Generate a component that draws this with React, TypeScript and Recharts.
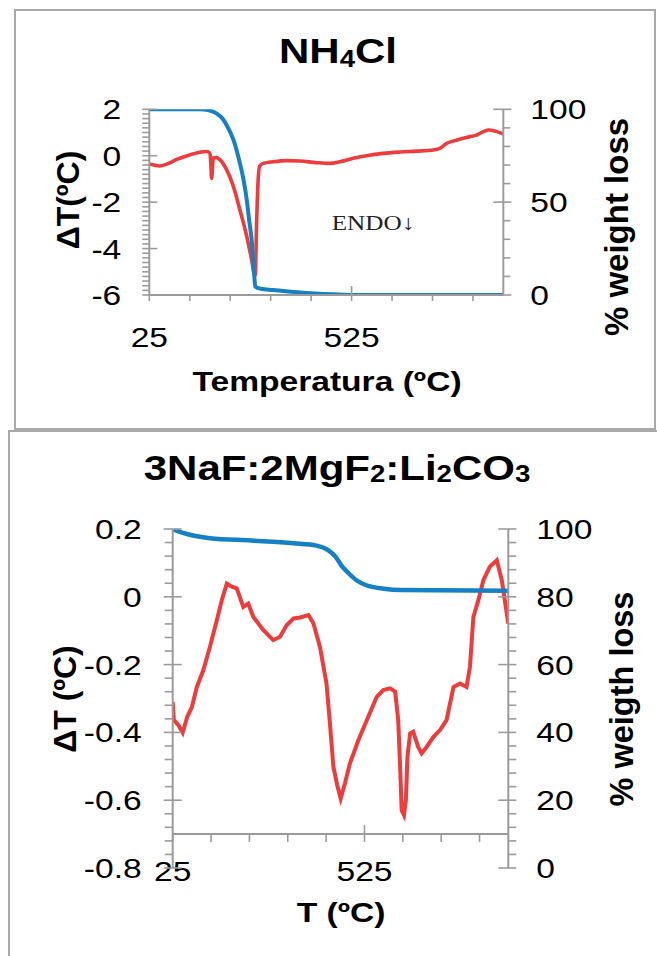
import React from 'react';
import { ComposedChart, Line, XAxis, YAxis, ReferenceLine } from 'recharts';

const AXIS_GRAY = '#9b9b9b';
const BORDER_GRAY = '#a9a9a9';
const RED = '#ee3b3b';
const BLUE = '#1580c4';
const SANS = 'Arial, "Liberation Sans", Helvetica, sans-serif';
const SERIF = '"Times New Roman", "Liberation Serif", serif';

// ---- NH4Cl panel ----
const nh4DtaTemp = [25, 51, 68, 93, 117, 150, 167, 175, 177, 179, 181, 183, 191, 200, 216, 233, 249, 266, 278, 284, 287, 290, 294, 298, 307, 331, 364, 397, 439, 472, 496, 529, 562, 603, 645, 686, 727, 743, 760, 776, 809, 834, 851, 863, 879, 900];
const nh4Dta = [-0.36, -0.44, -0.36, -0.16, -0.01, 0.15, 0.18, 0.1, -0.3, -0.97, -0.6, -0.1, -0.08, -0.18, -0.6, -1.33, -2.34, -3.49, -4.5, -5.07, -5.15, -3.06, -1.05, -0.44, -0.33, -0.26, -0.21, -0.23, -0.3, -0.33, -0.26, -0.11, 0.0, 0.1, 0.16, 0.2, 0.25, 0.32, 0.53, 0.63, 0.79, 0.89, 1.04, 1.11, 1.07, 0.94];
const nh4TgTemp = [25, 150, 170, 191, 204, 216, 233, 249, 258, 266, 272, 278, 284, 287, 300, 331, 397, 480, 530, 900];
const nh4Tg = [100, 100, 99.6, 97.8, 95.5, 91.6, 83.5, 70.9, 62, 51, 40, 29.6, 11.7, 4.5, 3.4, 2.7, 1.4, 0.4, 0, 0];
const nh4LeftMajor = [2, 0, -2, -4, -6];
const nh4RightMajor = [100, 50, 0];

// ---- 3NaF:2MgF2:Li2CO3 panel ----
const mixDtaTemp = [25, 28, 40, 51, 63, 75, 88, 105, 122, 140, 153, 166, 179, 192, 209, 222, 235, 261, 287, 305, 322, 340, 357, 379, 392, 409, 426, 435, 444, 454, 463, 474, 487, 509, 531, 557, 574, 592, 605, 613, 618, 622, 628, 633, 637, 644, 652, 665, 674, 687, 705, 722, 739, 757, 774, 791, 800, 809, 822, 835, 852, 870, 883, 900];
const mixDta = [-0.31, -0.364, -0.379, -0.401, -0.354, -0.325, -0.266, -0.216, -0.148, -0.069, -0.01, 0.039, 0.03, 0.025, -0.03, -0.02, -0.059, -0.098, -0.128, -0.118, -0.084, -0.064, -0.061, -0.054, -0.079, -0.148, -0.256, -0.374, -0.502, -0.556, -0.595, -0.551, -0.492, -0.423, -0.364, -0.295, -0.275, -0.27, -0.28, -0.364, -0.502, -0.63, -0.644, -0.6, -0.472, -0.403, -0.398, -0.443, -0.462, -0.443, -0.413, -0.393, -0.364, -0.266, -0.256, -0.266, -0.207, -0.059, -0.01, 0.049, 0.089, 0.108, 0.049, -0.079];
const mixTgTemp = [25, 50, 122, 230, 340, 400, 430, 450, 465, 485, 505, 530, 575, 620, 900];
const mixTg = [100, 98.9, 97.3, 96.6, 95.8, 95.1, 93.8, 91.8, 89.2, 86.8, 84.8, 83.4, 82.4, 82, 81.8];
const mixLeftMajor = [0.2, 0, -0.2, -0.4, -0.6, -0.8];
const mixRightMajor = [100, 80, 60, 40, 20, 0];

// shared x axis
const xLabels = [25, 525];
const xTickMarks = [25, 125, 225, 325, 425, 525, 625, 725, 825];

function steps(from: number, to: number, step: number) {
  const out: number[] = [];
  const n = Math.round((to - from) / step);
  for (let i = 0; i <= n; i++) out.push(+(from + i * step).toFixed(4));
  return out;
}

const rows = (ts: number[], vs: number[], key: string) => ts.map((t, i) => ({ t, [key]: vs[i] }));

type TickOpts = { majOut: number; majIn: number; minLen: number; gap: number };

const yTick = (side: 'left' | 'right', majors: number[], o: TickOpts) => (p: any) => {
  const { x, y, payload } = p;
  const v = payload.value;
  const major = majors.some((m) => Math.abs(m - v) < 1e-6);
  const s = side === 'left' ? -1 : 1;
  return (
    <g>
      {major ? (
        <line x1={x + s * o.majOut} x2={x - s * o.majIn} y1={y} y2={y} stroke={AXIS_GRAY} strokeWidth={1.6} />
      ) : (
        <line x1={x} x2={x + s * o.minLen} y1={y} y2={y} stroke={AXIS_GRAY} strokeWidth={1.6} />
      )}
      {major && (
        <text
          transform={`translate(${x + s * o.gap},${y}) scale(1.2,1)`}
          textAnchor={side === 'left' ? 'end' : 'start'}
          dy="0.36em"
          fontSize={28}
          fontFamily={SANS}
          fill="#000"
        >
          {String(v)}
        </text>
      )}
    </g>
  );
};

const nh4XTick = (p: any) => {
  const { x, y, payload } = p;
  const v = payload.value;
  return (
    <g>
      <line x1={x} x2={x} y1={v === 525 ? y - 9 : y} y2={y + 6} stroke={AXIS_GRAY} strokeWidth={1.6} />
      {xLabels.includes(v) && (
        <text transform={`translate(${x},${y + 42}) scale(1.2,1)`} textAnchor="middle" dy="0.36em" fontSize={28} fontFamily={SANS} fill="#000">
          {v}
        </text>
      )}
    </g>
  );
};

const mixXTick = (p: any) => {
  const { x, y, payload } = p;
  return (
    <text transform={`translate(${x},${y + 3}) scale(1.2,1)`} textAnchor="middle" dy="0.36em" fontSize={28} fontFamily={SANS} fill="#000">
      {payload.value}
    </text>
  );
};

const axisLine = { stroke: AXIS_GRAY, strokeWidth: 2 };

function Nh4Chart() {
  return (
    <ComposedChart width={657} height={430} margin={{ top: 109.3, right: 123.7, bottom: 105, left: 119.3 }}>
      <XAxis type="number" dataKey="t" domain={[25, 900]} allowDataOverflow ticks={xTickMarks} interval={0}
        height={30} axisLine={axisLine} tickLine={false} tickSize={0} tickMargin={0} tick={nh4XTick} />
      <YAxis yAxisId="left" domain={[-6, 2]} allowDataOverflow ticks={steps(-6, 2, 0.2)} interval={0} width={30}
        axisLine={axisLine} tickLine={false} tickSize={0} tickMargin={0}
        tick={yTick('left', nh4LeftMajor, { majOut: 7, majIn: 8, minLen: 7, gap: 28 })} />
      <YAxis yAxisId="right" orientation="right" domain={[0, 100]} allowDataOverflow ticks={steps(0, 100, 10)} interval={0} width={30}
        axisLine={axisLine} tickLine={false} tickSize={0} tickMargin={0}
        tick={yTick('right', nh4RightMajor, { majOut: 8, majIn: 10, minLen: 7, gap: 27 })} />
      <Line yAxisId="left" data={rows(nh4DtaTemp, nh4Dta, 'v')} dataKey="v" type="monotone" stroke={RED}
        strokeWidth={3.6} dot={false} isAnimationActive={false} />
      <Line yAxisId="right" data={rows(nh4TgTemp, nh4Tg, 'w')} dataKey="w" type="monotone" stroke={BLUE}
        strokeWidth={4} dot={false} isAnimationActive={false} />
    </ComposedChart>
  );
}

function MixChart() {
  return (
    <ComposedChart width={657} height={956} margin={{ top: 529, right: 118.7, bottom: 58, left: 142.7 }}>
      <XAxis type="number" dataKey="t" domain={[25, 900]} allowDataOverflow ticks={xLabels} interval={0}
        height={30} axisLine={false} tickLine={false} tickSize={0} tickMargin={0} tick={mixXTick} />
      <YAxis yAxisId="left" domain={[-0.8, 0.2]} allowDataOverflow ticks={steps(-0.8, 0.2, 0.04)} interval={0} width={30}
        axisLine={axisLine} tickLine={false} tickSize={0} tickMargin={0}
        tick={yTick('left', mixLeftMajor, { majOut: 9, majIn: 9, minLen: 8, gap: 31 })} />
      <YAxis yAxisId="right" orientation="right" domain={[0, 100]} allowDataOverflow ticks={steps(0, 100, 4)} interval={0} width={30}
        axisLine={axisLine} tickLine={false} tickSize={0} tickMargin={0}
        tick={yTick('right', mixRightMajor, { majOut: 8, majIn: 10, minLen: 8, gap: 28 })} />
      <ReferenceLine yAxisId="left" y={-0.7} stroke={AXIS_GRAY} strokeWidth={2} />
      {xTickMarks.map((t) => (
        <ReferenceLine key={t} yAxisId="left" stroke={AXIS_GRAY} strokeWidth={1.6}
          segment={[{ x: t, y: t === 525 ? -0.673 : -0.7 }, { x: t, y: -0.723 }]} />
      ))}
      <Line yAxisId="left" data={rows(mixDtaTemp, mixDta, 'v')} dataKey="v" type="linear" stroke={RED}
        strokeWidth={4} dot={false} isAnimationActive={false} />
      <Line yAxisId="right" data={rows(mixTgTemp, mixTg, 'w')} dataKey="w" type="monotone" stroke={BLUE}
        strokeWidth={4.5} dot={false} isAnimationActive={false} />
    </ComposedChart>
  );
}

function Texts() {
  const bold = { fontFamily: SANS, fontWeight: 700, fill: '#000' } as const;
  return (
    <svg width={657} height={956} style={{ position: 'absolute', left: 0, top: 0, pointerEvents: 'none' }}>
      <rect x={15} y={10} width={640} height={419} fill="none" stroke={BORDER_GRAY} strokeWidth={2} />
      <rect x={9} y={431} width={700} height={600} fill="none" stroke={BORDER_GRAY} strokeWidth={2} />

      <text transform="translate(338,63) scale(1.2,1)" textAnchor="middle" fontSize={35} {...bold}>
        NH<tspan fontSize={23} dy={3.7}>4</tspan><tspan dy={-3.7}>Cl</tspan>
      </text>
      <text transform="translate(67,200) rotate(-90)" textAnchor="middle" dy="0.36em" fontSize={32} {...bold}>ΔT(ºC)</text>
      <text transform="translate(616,227) rotate(-90)" textAnchor="middle" dy="0.36em" fontSize={33} {...bold}>% weight loss</text>
      <text transform="translate(327,391) scale(1.2,1)" textAnchor="middle" fontSize={28} {...bold}>Temperatura (ºC)</text>
      <text transform="translate(373,230) scale(1.2,1)" textAnchor="middle" fontSize={21} fontFamily={SERIF} fill="#222">ENDO↓</text>

      <text transform="translate(337,480) scale(1.2,1)" textAnchor="middle" fontSize={35} {...bold}>
        3NaF:2MgF<tspan fontSize={23} dy={2}>2</tspan><tspan dy={-2}>:Li</tspan>
        <tspan fontSize={23} dy={2}>2</tspan><tspan dy={-2}>CO</tspan><tspan fontSize={23} dy={2}>3</tspan>
      </text>
      <text transform="translate(64,699) rotate(-90)" textAnchor="middle" dy="0.36em" fontSize={32} {...bold}>ΔT (ºC)</text>
      <text transform="translate(621,699) rotate(-90)" textAnchor="middle" dy="0.36em" fontSize={32.5} {...bold}>% weigth loss</text>
      <text transform="translate(341,922) scale(1.2,1)" textAnchor="middle" fontSize={28} {...bold}>T (ºC)</text>
    </svg>
  );
}

export default function App() {
  return (
    <div style={{ position: 'absolute', left: 0, top: 0, width: 657, height: 956, background: '#fff', overflow: 'hidden' }}>
      <div style={{ position: 'absolute', left: 0, top: 0 }}>
        <Nh4Chart />
      </div>
      <div style={{ position: 'absolute', left: 0, top: 0 }}>
        <MixChart />
      </div>
      <Texts />
    </div>
  );
}
